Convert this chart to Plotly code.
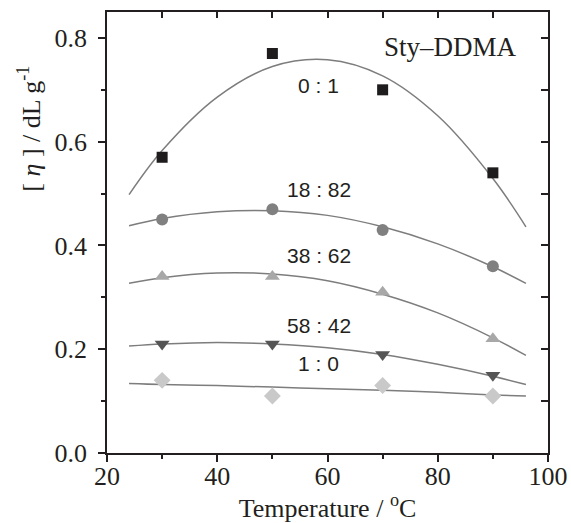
import plotly.graph_objects as go

# Measured data (temperature in °C, [eta] in dL/g)
temps = [30, 50, 70, 90]
series_names = ["0 : 1", "18 : 82", "38 : 62", "58 : 42", "1 : 0"]
eta_0_1 = [0.57, 0.77, 0.70, 0.54]
eta_18_82 = [0.45, 0.47, 0.43, 0.36]
eta_38_62 = [0.34, 0.34, 0.31, 0.22]
eta_58_42 = [0.21, 0.21, 0.19, 0.15]
eta_1_0 = [0.14, 0.11, 0.13, 0.11]

# Fitted curves
fit_x = [24, 30, 40, 50, 60, 70, 80, 90, 96]
fit_0_1 = [0.498, 0.583, 0.686, 0.745, 0.758, 0.727, 0.650, 0.529, 0.436]
fit_18_82 = [0.438, 0.452, 0.465, 0.467, 0.458, 0.436, 0.403, 0.359, 0.327]
fit_38_62 = [0.327, 0.338, 0.347, 0.345, 0.332, 0.306, 0.270, 0.222, 0.188]
fit_58_42 = [0.206, 0.210, 0.213, 0.210, 0.203, 0.190, 0.171, 0.148, 0.132]
fit_1_0 = [0.134, 0.132, 0.130, 0.127, 0.124, 0.121, 0.117, 0.112, 0.110]

# Label anchor positions (data coords)
label_x = [58.3, 58.5, 58.5, 58.5, 58.4]
label_y = [0.708, 0.508, 0.381, 0.246, 0.172]

series_vals = [eta_0_1, eta_18_82, eta_38_62, eta_58_42, eta_1_0]
fit_vals = [fit_0_1, fit_18_82, fit_38_62, fit_58_42, fit_1_0]
symbols = ["square", "circle", "triangle-up", "triangle-down", "diamond"]
colors = ["#1e1c1d", "#808080", "#a8a8a8", "#555555", "#c9c9c9"]
sizes = [11, 12, 13, 13, 13]

LINE_COLOR = "#7d7d7d"
AX_COLOR = "#231f20"
SERIF = "Liberation Serif"
SANS = "Liberation Sans"

fig = go.Figure()

for fv in fit_vals:
    fig.add_trace(go.Scatter(x=fit_x, y=fv, mode="lines", line=dict(color=LINE_COLOR, width=1.5, shape="spline"),
                             showlegend=False, hoverinfo="skip"))

for name, vals, sym, col, sz in zip(series_names, series_vals, symbols, colors, sizes):
    fig.add_trace(go.Scatter(x=temps, y=vals, mode="markers", name=name,
                             marker=dict(symbol=sym, color=col, size=sz, line=dict(width=0)),
                             showlegend=False))

# invisible trace for mirrored axes
fig.add_trace(go.Scatter(x=[60], y=[0.4], xaxis="x2", yaxis="y2", mode="markers",
                         marker=dict(opacity=0), showlegend=False, hoverinfo="skip"))

for name, lx, ly in zip(series_names, label_x, label_y):
    fig.add_annotation(x=lx, y=ly, text=name, showarrow=False,
                       font=dict(family=SANS, size=21, color="#231f20"), xanchor="center", yanchor="middle")

fig.add_annotation(x=82.3, y=0.783, text="Sty\u2013DDMA", showarrow=False,
                   font=dict(family=SERIF, size=27, color="#231f20"), xanchor="center", yanchor="middle")

# y-axis title as a rotated annotation
fig.add_annotation(xref="paper", yref="paper", x=-0.175, y=0.735, text="[ <i>\u03b7</i> ] / dL g<sup>-1</sup>",
                   textangle=-90, showarrow=False, xanchor="center", yanchor="middle",
                   font=dict(family=SERIF, size=26, color="#231f20"))

xr = [20, 100]
yr = [0, 0.85]

fig.update_layout(
    width=571, height=523,
    margin=dict(l=107, r=23, t=12, b=70),
    paper_bgcolor="white", plot_bgcolor="white",
    font=dict(family=SERIF, size=26, color="#231f20"),
    xaxis=dict(range=xr, showgrid=False, zeroline=False, showline=True, linecolor=AX_COLOR, linewidth=1.5,
               automargin=False, ticklabelstandoff=-8,
               ticks="outside", ticklen=7, tickwidth=1.5, tickcolor=AX_COLOR, dtick=20, tick0=0,
               minor=dict(ticks="outside", ticklen=4, dtick=10, tickwidth=1.5, tickcolor=AX_COLOR),
               title=dict(text="Temperature / <sup>o</sup>C", font=dict(family=SERIF, size=26), standoff=2),
               tickfont=dict(family=SERIF, size=26)),
    yaxis=dict(range=yr, showgrid=False, zeroline=False, showline=True, linecolor=AX_COLOR, linewidth=1.5,
               automargin=False, ticklabelstandoff=6,
               ticks="outside", ticklen=7, tickwidth=1.5, tickcolor=AX_COLOR, dtick=0.2, tick0=0,
               tickformat=".1f",
               minor=dict(ticks="outside", ticklen=4, dtick=0.1, tickwidth=1.5, tickcolor=AX_COLOR),
               tickfont=dict(family=SERIF, size=26)),
    xaxis2=dict(range=xr, overlaying="x", side="top", showgrid=False, zeroline=False, showline=True,
                automargin=False,
                linecolor=AX_COLOR, linewidth=1.5, ticks="inside", ticklen=6, tickwidth=1.5, tickcolor=AX_COLOR,
                dtick=10, tick0=0, showticklabels=False),
    yaxis2=dict(range=yr, overlaying="y", side="right", showgrid=False, zeroline=False, showline=True,
                automargin=False,
                linecolor=AX_COLOR, linewidth=1.5, ticks="inside", ticklen=7, tickwidth=1.5, tickcolor=AX_COLOR,
                dtick=0.1, tick0=0, showticklabels=False),
)

fig.write_html("out.html")
